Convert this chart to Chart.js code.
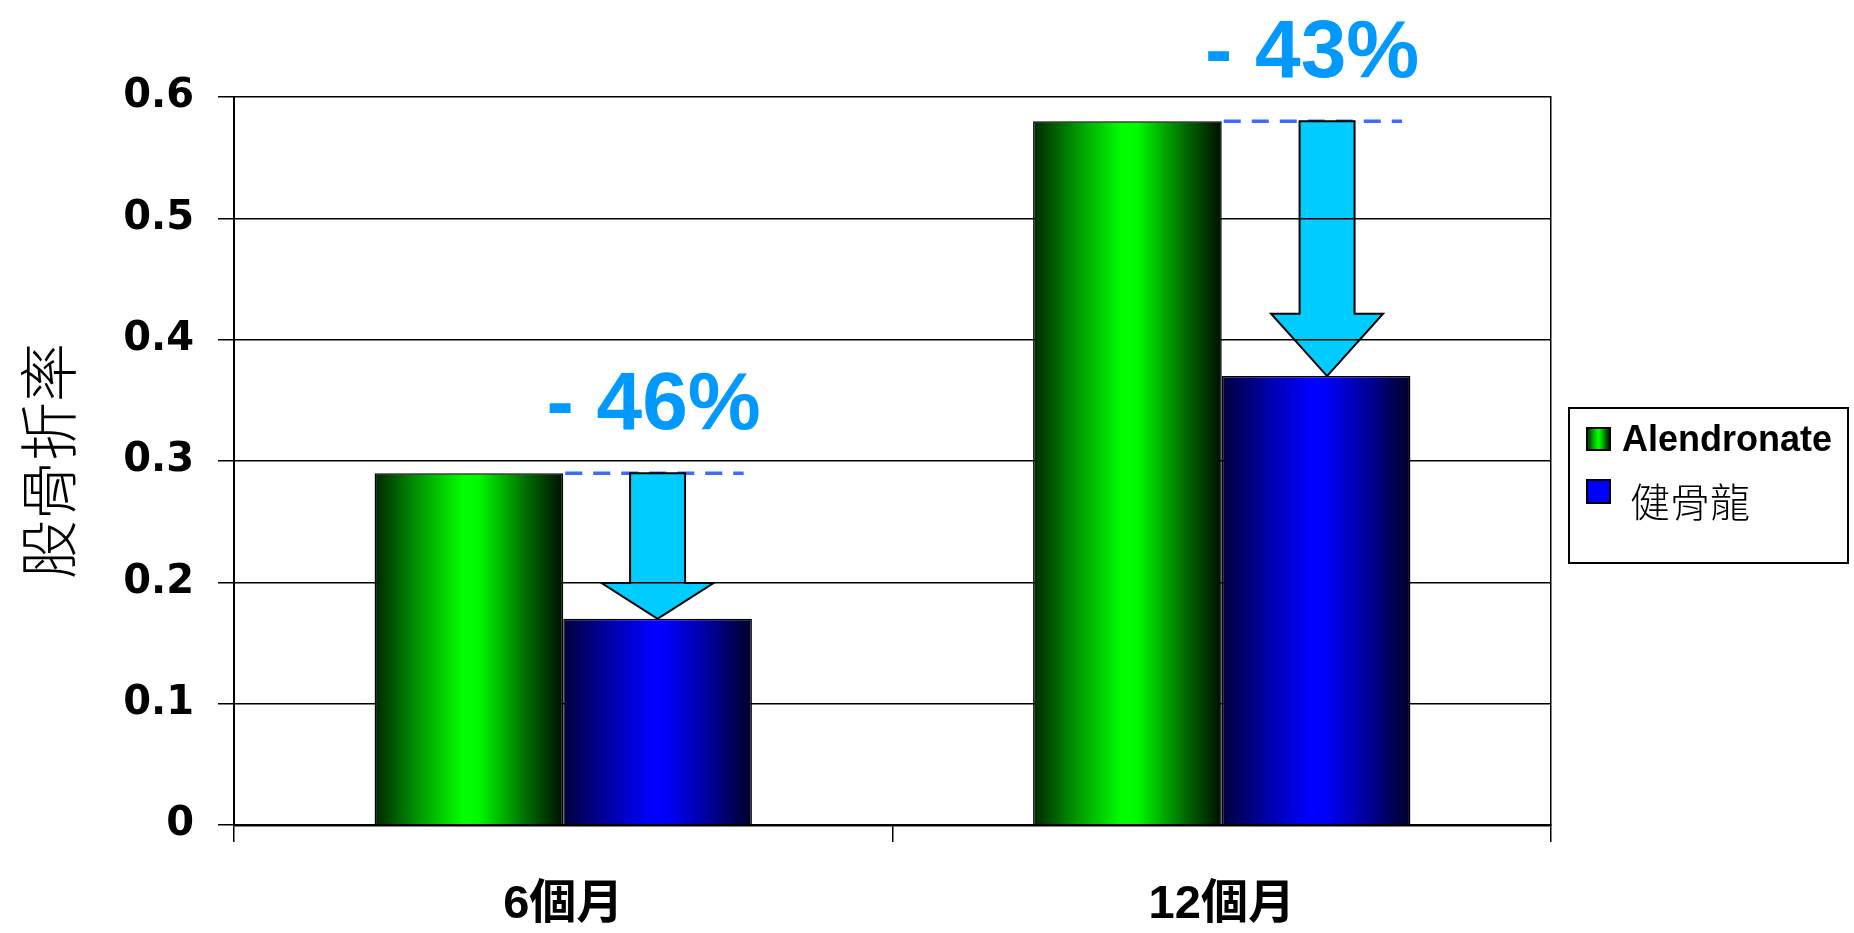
<!DOCTYPE html>
<html>
<head>
<meta charset="utf-8">
<script src="https://cdn.jsdelivr.net/npm/chart.js@4/dist/chart.umd.min.js"></script>
<style>
html,body{margin:0;padding:0;background:#fff;}
canvas{display:block;}
</style>
</head>
<body>
<canvas id="c" width="1854" height="933"></canvas>
<script>
// ---- data ----
const categories = ['6個月', '12個月'];
const seriesNames = ['Alendronate', '健骨龍'];
const alendronateValues = [0.29, 0.58];
const jiangulongValues = [0.17, 0.37];
const yTickLabels = ['0', '0.1', '0.2', '0.3', '0.4', '0.5', '0.6'];
const reductionLabels = ['- 46%', '- 43%'];
const yAxisTitle = '股骨折率';

// ---- styles ----
const CAT_PCT = 0.573;
const greenStops = [[0, 'rgb(0,38,0)'], [0.25, 'rgb(0,160,0)'], [0.47, 'rgb(0,255,0)'], [0.55, 'rgb(0,250,0)'], [0.8, 'rgb(0,110,0)'], [1, 'rgb(0,14,0)']];
const blueStops = [[0, 'rgb(0,0,60)'], [0.25, 'rgb(0,0,170)'], [0.47, 'rgb(0,0,255)'], [0.55, 'rgb(0,0,250)'], [0.8, 'rgb(0,0,140)'], [1, 'rgb(0,0,40)']];
const arrowShift = [0, 11];

function barGradient(c, stops, solid) {
  if (c.type !== 'data') return solid;
  const chart = c.chart;
  const xs = chart.scales.x;
  if (!xs || !chart.chartArea) return solid;
  const center = xs.getPixelForValue(c.dataIndex);
  const catW = chart.chartArea.width / categories.length;
  const barW = catW * CAT_PCT / 2;
  const left = c.datasetIndex === 0 ? center - barW : center;
  const g = chart.ctx.createLinearGradient(left, 0, left + barW, 0);
  stops.forEach(([o, col]) => g.addColorStop(o, col));
  return g;
}

// arrows, dashed lines and reduction labels (drawn beneath grid lines)
const annotPlugin = {
  id: 'annot',
  beforeDraw(chart) {
    const ctx = chart.ctx;
    const y = chart.scales.y;
    const m0 = chart.getDatasetMeta(0), m1 = chart.getDatasetMeta(1);
    categories.forEach((_, i) => {
      const g = m0.data[i], b = m1.data[i];
      if (!g || !b) return;
      const yTop = y.getPixelForValue(alendronateValues[i]);
      const yBot = y.getPixelForValue(jiangulongValues[i]);
      const gRight = g.x + g.width / 2;
      const bx = b.x;
      const ax = bx + arrowShift[i];
      ctx.save();
      ctx.strokeStyle = '#3d6bff';
      ctx.lineWidth = 3.5;
      ctx.setLineDash([17, 11]);
      ctx.beginPath();
      ctx.moveTo(gRight + 2, yTop);
      ctx.lineTo(bx + 86, yTop);
      ctx.stroke();
      ctx.restore();

      const len = yBot - yTop;
      const headH = len * 0.245;
      const sw = 27.5, hw = 56;
      ctx.save();
      ctx.beginPath();
      ctx.moveTo(ax - sw, yTop);
      ctx.lineTo(ax + sw, yTop);
      ctx.lineTo(ax + sw, yBot - headH);
      ctx.lineTo(ax + hw, yBot - headH);
      ctx.lineTo(ax, yBot);
      ctx.lineTo(ax - hw, yBot - headH);
      ctx.lineTo(ax - sw, yBot - headH);
      ctx.closePath();
      ctx.fillStyle = '#00ccff';
      ctx.fill();
      ctx.lineWidth = 2;
      ctx.strokeStyle = '#000';
      ctx.stroke();
      ctx.font = 'bold 82px "Liberation Sans", Arial, sans-serif';
      ctx.fillStyle = '#0099ff';
      ctx.textAlign = 'center';
      ctx.textBaseline = 'alphabetic';
      ctx.fillText(reductionLabels[i], bx - 4, yTop - 44);
      ctx.restore();
    });
  }
};

// boxed legend to the right of the plot
const legendPlugin = {
  id: 'boxLegend',
  afterDraw(chart) {
    const ctx = chart.ctx;
    const left = chart.chartArea.right + 18;
    const top = 408;
    ctx.save();
    ctx.lineWidth = 2;
    ctx.strokeStyle = '#000';
    ctx.strokeRect(left, top, 279, 155);
    const sx = left + 18;
    const g = ctx.createLinearGradient(sx, 0, sx + 23, 0);
    greenStops.forEach(([o, col]) => g.addColorStop(o, col));
    ctx.fillStyle = g;
    ctx.fillRect(sx, top + 20, 23, 22);
    ctx.lineWidth = 2;
    ctx.strokeRect(sx, top + 20, 23, 22);
    ctx.fillStyle = '#000';
    ctx.textAlign = 'left';
    ctx.textBaseline = 'alphabetic';
    ctx.font = 'bold 36px "Liberation Sans", Arial, sans-serif';
    ctx.fillText(seriesNames[0], sx + 35, top + 43);
    ctx.fillStyle = '#0000ff';
    ctx.fillRect(sx, top + 72, 23, 23);
    ctx.strokeRect(sx, top + 72, 23, 23);
    ctx.fillStyle = '#000';
    ctx.font = '300 40px "Noto Sans CJK TC", "Noto Sans CJK SC", sans-serif';
    ctx.fillText(seriesNames[1], sx + 43, top + 109);
    ctx.restore();
  }
};

new Chart(document.getElementById('c'), {
  type: 'bar',
  data: {
    labels: categories,
    datasets: [
      {
        label: seriesNames[0],
        data: alendronateValues,
        backgroundColor: (c) => barGradient(c, greenStops, '#00ff00'),
        borderColor: '#000',
        borderWidth: 1.5,
        barPercentage: 1,
        categoryPercentage: CAT_PCT
      },
      {
        label: seriesNames[1],
        data: jiangulongValues,
        backgroundColor: (c) => barGradient(c, blueStops, '#0000ff'),
        borderColor: '#000',
        borderWidth: 1.5,
        barPercentage: 1,
        categoryPercentage: CAT_PCT
      }
    ]
  },
  options: {
    responsive: false,
    animation: false,
    events: [],
    layout: { padding: { top: 97, right: 303, bottom: 0, left: 0 } },
    plugins: {
      legend: { display: false },
      tooltip: { enabled: false },
      title: { display: false }
    },
    scales: {
      x: {
        type: 'category',
        position: 'bottom',
        grid: { display: true, drawOnChartArea: false, offset: true, tickLength: 17, color: '#000', lineWidth: 1.5 },
        border: { display: true, color: '#000', width: 2.5 },
        ticks: {
          color: '#000',
          padding: 35,
          font: { family: '"Liberation Sans", Arial, "Noto Sans CJK TC", sans-serif', size: 47, weight: 'bold' }
        },
        afterFit: (s) => { s.height = 108; }
      },
      y: {
        position: 'left',
        min: 0,
        max: 0.6,
        ticks: {
          stepSize: 0.1,
          color: '#000',
          padding: 24,
          font: { family: '"DejaVu Sans", sans-serif', size: 40, weight: 'bold' },
          callback: (v, i) => yTickLabels[i]
        },
        grid: { color: '#000', lineWidth: 1.5, tickLength: 16, drawTicks: true },
        border: { display: true, color: '#000', width: 2 },
        title: {
          display: true,
          text: yAxisTitle,
          color: '#000',
          padding: { top: 13, bottom: 10 },
          font: { family: '"Noto Sans CJK TC", "Noto Sans CJK SC", sans-serif', size: 59, weight: '300' }
        },
        afterFit: (s) => { s.width = 234; }
      },
      yR: {
        position: 'right',
        display: true,
        min: 0,
        max: 0.6,
        grid: { display: false, drawTicks: false },
        ticks: { display: false },
        border: { display: true, color: '#000', width: 1.5 },
        afterFit: (s) => { s.width = 0; }
      }
    }
  },
  plugins: [annotPlugin, legendPlugin]
});
</script>
</body>
</html>
